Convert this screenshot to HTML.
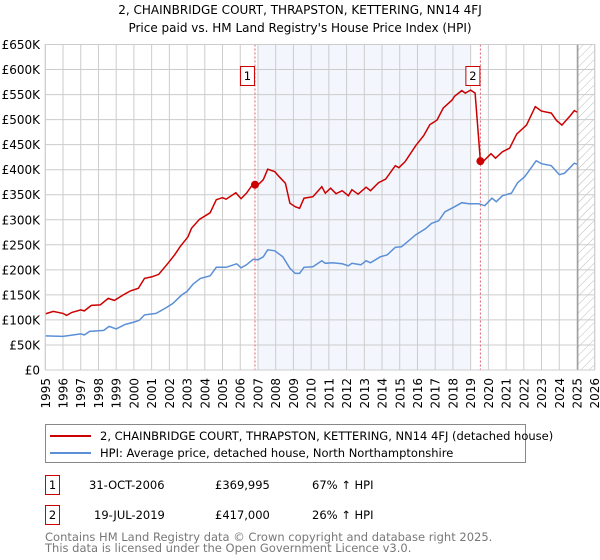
<!DOCTYPE html>
<html><head><meta charset="utf-8"><style>
body{margin:0;background:#fff;font-family:"DejaVu Sans","Liberation Sans",sans-serif;}
svg{display:block}
text{font-family:"DejaVu Sans","Liberation Sans",sans-serif;}
</style></head><body>
<svg id="chart" width="600" height="560">
<defs>
<pattern id="hatch" width="6" height="6" patternUnits="userSpaceOnUse" patternTransform="rotate(45)">
<line x1="0" y1="0" x2="0" y2="6" stroke="#bbb" stroke-width="1"/>
</pattern>
</defs>
<text x="300" y="14" text-anchor="middle" font-size="12">2, CHAINBRIDGE COURT, THRAPSTON, KETTERING, NN14 4FJ</text>
<text x="300" y="32" text-anchor="middle" font-size="12">Price paid vs. HM Land Registry's House Price Index (HPI)</text>
<g id="plot"></g>
<g>
<rect x="45.5" y="424.5" width="480" height="38" fill="#fff" stroke="#888"/>
<line x1="50" y1="436" x2="91" y2="436" stroke="#cc0000" stroke-width="2"/>
<text x="100" y="440" font-size="11.5">2, CHAINBRIDGE COURT, THRAPSTON, KETTERING, NN14 4FJ (detached house)</text>
<line x1="50" y1="453" x2="91" y2="453" stroke="#5b8fd6" stroke-width="2"/>
<text x="100" y="457" font-size="11.5">HPI: Average price, detached house, North Northamptonshire</text>
</g>
<g font-size="11.5">
<rect x="45.5" y="475.5" width="14" height="19" fill="#fff" stroke="#cc0000"/>
<text x="52.5" y="489" text-anchor="middle">1</text>
<text x="89" y="489">31-OCT-2006</text>
<text x="215" y="489">£369,995</text>
<text x="312" y="489">67% ↑ HPI</text>
<rect x="45.5" y="505.5" width="14" height="19" fill="#fff" stroke="#cc0000"/>
<text x="52.5" y="519" text-anchor="middle">2</text>
<text x="94" y="519">19-JUL-2019</text>
<text x="215" y="519">£417,000</text>
<text x="312" y="519">26% ↑ HPI</text>
</g>
<text x="45" y="541" font-size="11.5" fill="#777">Contains HM Land Registry data © Crown copyright and database right 2025.</text>
<text x="45" y="552" font-size="11.5" fill="#777">This data is licensed under the Open Government Licence v3.0.</text>
</svg>
<script>
const yTicks=[0,50,100,150,200,250,300,350,400,450,500,550,600,650];
const yTickLabels=["£0","£50K","£100K","£150K","£200K","£250K","£300K","£350K","£400K","£450K","£500K","£550K","£600K","£650K"];
const years=[1995,1996,1997,1998,1999,2000,2001,2002,2003,2004,2005,2006,2007,2008,2009,2010,2011,2012,2013,2014,2015,2016,2017,2018,2019,2020,2021,2022,2023,2024,2025,2026];
const saleDates=[2006.83,2019.55];
const saleValues=[370,417];
const saleLabels=["1","2"];
const redT=[1995,1995.45,1996,1996.2,1996.5,1997,1997.2,1997.6,1998.1,1998.55,1998.9,1999.4,1999.8,2000.25,2000.6,2001,2001.4,2001.85,2002.3,2002.6,2003.05,2003.25,2003.7,2004.3,2004.65,2005,2005.2,2005.75,2006.05,2006.35,2006.73,2006.83,2006.9,2007.3,2007.55,2007.95,2008.2,2008.55,2008.8,2009.1,2009.35,2009.6,2010.1,2010.6,2010.8,2011.1,2011.4,2011.75,2012.1,2012.3,2012.65,2013.1,2013.35,2013.8,2014.2,2014.75,2014.95,2015.3,2015.9,2016.35,2016.7,2017.1,2017.45,2017.95,2018.1,2018.5,2018.7,2019,2019.25,2019.55,2019.7,2020.15,2020.4,2020.8,2021.2,2021.6,2022.15,2022.65,2023,2023.55,2023.85,2024.15,2024.6,2024.85,2025];
const redV=[112,117,113,109,115,120,118,129,130,143,139,150,158,163,183,186,191,210,230,246,266,283,301,314,340,344,341,354,342,353,372,370,366,380,401,396,386,373,333,326,323,343,346,366,353,363,352,358,348,360,351,365,358,374,381,408,404,416,448,468,490,499,523,539,547,558,553,559,553,417,416,432,423,436,443,471,489,526,517,513,498,489,507,518,515];
const blueT=[1995,1996,1997,1997.2,1997.5,1998.3,1998.6,1999,1999.5,1999.95,2000.3,2000.6,2001.25,2001.85,2002.2,2002.7,2003,2003.35,2003.75,2004.3,2004.65,2005.2,2005.8,2006.05,2006.35,2006.73,2007,2007.3,2007.55,2007.95,2008.4,2008.8,2009.1,2009.35,2009.6,2010.1,2010.6,2010.8,2011.2,2011.75,2012.1,2012.3,2012.8,2013.1,2013.35,2013.9,2014.3,2014.75,2015.1,2015.9,2016.45,2016.8,2017.2,2017.55,2018.1,2018.5,2018.9,2019.45,2019.8,2020.2,2020.45,2020.8,2021.3,2021.65,2022.05,2022.4,2022.7,2023,2023.55,2024,2024.3,2024.85,2025];
const blueV=[68,67,72,70,77,79,87,82,91,95,99,110,113,125,133,150,157,172,183,188,205,205,212,204,210,221,220,226,240,238,226,203,193,193,205,206,218,213,214,212,208,213,210,218,214,226,230,245,246,270,282,293,298,316,326,334,332,332,328,343,336,348,353,374,386,403,418,412,408,390,393,413,411];
const X0=45.3,X1=594.7,Y0=370,Y1=44.5;
const xs=t=>X0+(t-1995)/(2026-1995)*(X1-X0);
const ys=v=>Y0-v/650*(Y0-Y1);
const NS="http://www.w3.org/2000/svg";
const g=document.getElementById('plot');
function mk(tag,attrs,parent){const e=document.createElementNS(NS,tag);for(const k in attrs)e.setAttribute(k,attrs[k]);(parent||g).appendChild(e);return e;}
let e=mk('rect',{x:xs(2007),y:Y1,width:xs(2019)-xs(2007),height:Y0-Y1,fill:'#f3f6fd'});


e=mk('rect',{x:xs(2025.05),y:Y1,width:X1-xs(2025.05),height:Y0-Y1,fill:'url(#hatch)'});


years.forEach(yr=>{const x=xs(yr);
e=mk('line',{x1:x,x2:x,y1:Y1,y2:Y0,stroke:'#ccc','stroke-width':1});


e=mk('text',{x:0,y:0,'font-size':12,'text-anchor':'end',transform:`translate(${x+4.5},378) rotate(-90)`});
e.textContent=yr;


});
yTicks.forEach((v,i)=>{const y=ys(v);
e=mk('line',{x1:X0,x2:X1,y1:y,y2:y,stroke:'#ccc','stroke-width':1});


e=mk('text',{x:40,y:y+4.5,'font-size':12,'text-anchor':'end'});
e.textContent=yTickLabels[i];


});
e=mk('line',{x1:xs(2025.05),x2:xs(2025.05),y1:Y1,y2:Y0,stroke:'#888','stroke-width':1});


saleDates.forEach((d,i)=>{
e=mk('line',{x1:xs(d),x2:xs(d),y1:Y1,y2:Y0,stroke:'#e06070','stroke-width':1,'stroke-dasharray':'2,2'});


});
e=mk('path',{d:blueT.map((t,i)=>(i?'L':'M')+xs(t).toFixed(1)+','+ys(blueV[i]).toFixed(1)).join(''),fill:'none',stroke:'#5b8fd6','stroke-width':1.5});


e=mk('path',{d:redT.map((t,i)=>(i?'L':'M')+xs(t).toFixed(1)+','+ys(redV[i]).toFixed(1)).join(''),fill:'none',stroke:'#cc0000','stroke-width':1.5});


saleDates.forEach((d,i)=>{
e=mk('circle',{cx:xs(d),cy:ys(saleValues[i]),r:4,fill:'#cc0000'});


e=mk('rect',{x:xs(d)-14.5,y:66.5,width:14,height:19,fill:'#fff',stroke:'#cc0000'});


e=mk('text',{x:xs(d)-7.5,y:80,'font-size':11.5,'text-anchor':'middle'});
e.textContent=saleLabels[i];


});
e=mk('rect',{x:X0,y:Y1,width:X1-X0,height:Y0-Y1,fill:'none',stroke:'#ccc'});


</script>
</body></html>
